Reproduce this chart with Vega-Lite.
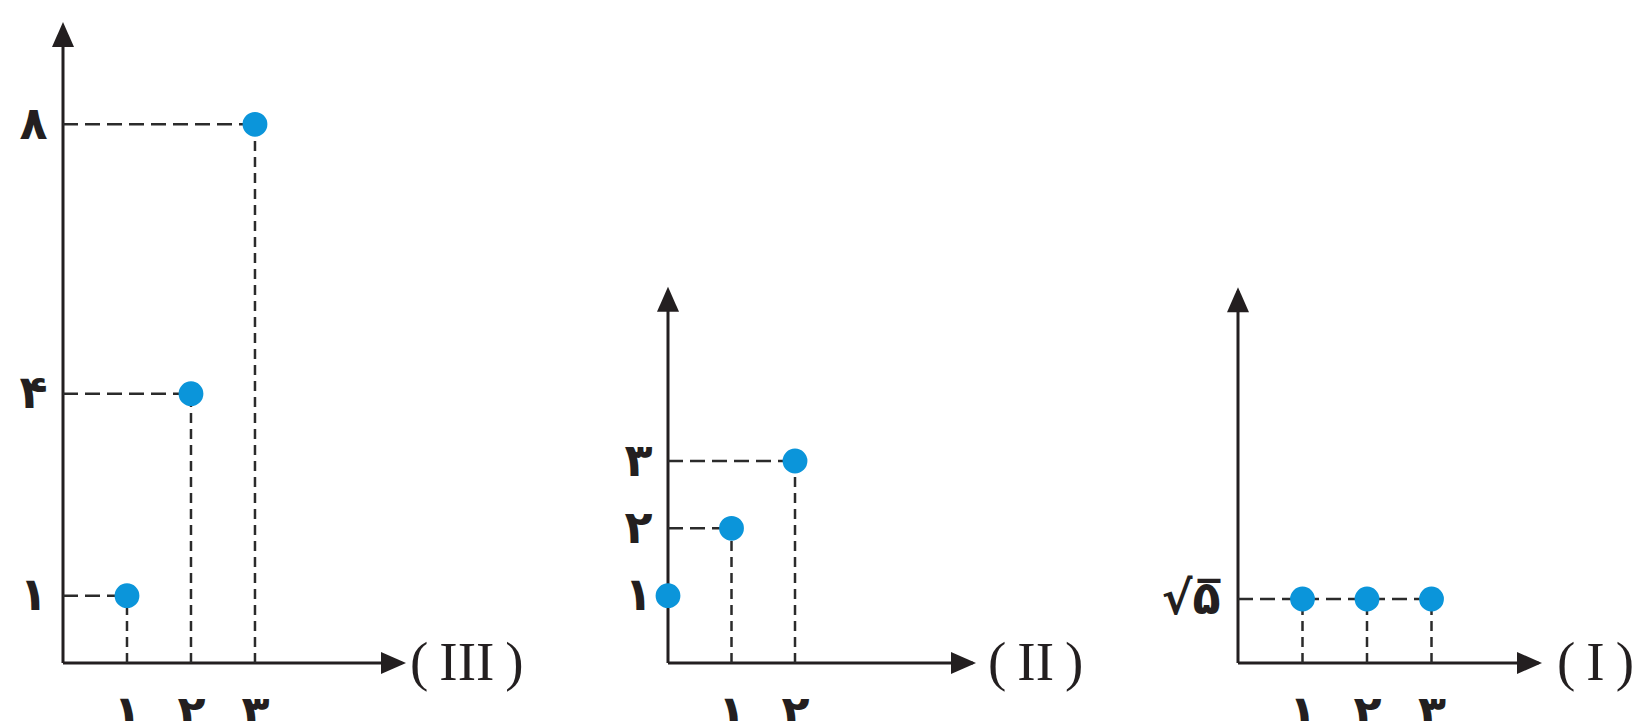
{
  "$schema": "https://vega.github.io/schema/vega-lite/v6.json",
  "padding": {"left": 18, "top": 22, "right": 0, "bottom": 0},
  "background": "white",
  "datasets": {
    "pIII": [{"n": 1, "a": 1}, {"n": 2, "a": 4}, {"n": 3, "a": 8}],
    "gIII": [
      {"kind": "axis", "x0": 0, "x1": 5.3, "y0": 0, "y1": 0},
      {"kind": "axis", "x0": 0, "x1": 0, "y0": 0, "y1": 9.45},
      {"kind": "h", "x0": 0, "x1": 1, "y0": 1, "y1": 1},
      {"kind": "h", "x0": 0, "x1": 2, "y0": 4, "y1": 4},
      {"kind": "h", "x0": 0, "x1": 3, "y0": 8, "y1": 8},
      {"kind": "v", "x0": 1, "x1": 1, "y0": 0, "y1": 1},
      {"kind": "v", "x0": 2, "x1": 2, "y0": 0, "y1": 4},
      {"kind": "v", "x0": 3, "x1": 3, "y0": 0, "y1": 8}
    ],
    "aIII": [{"x": 5.36, "y": 0, "dir": "right", "label": "(\u2009III\u2009)"}, {"x": 0, "y": 9.52, "dir": "up", "label": ""}],
    "pII": [{"n": 0, "a": 1}, {"n": 1, "a": 2}, {"n": 2, "a": 3}],
    "gII": [
      {"kind": "axis", "x0": 0, "x1": 4.8, "y0": 0, "y1": 0},
      {"kind": "axis", "x0": 0, "x1": 0, "y0": 0, "y1": 5.52},
      {"kind": "h", "x0": 0, "x1": 1, "y0": 2, "y1": 2},
      {"kind": "h", "x0": 0, "x1": 2, "y0": 3, "y1": 3},
      {"kind": "v", "x0": 1, "x1": 1, "y0": 0, "y1": 2},
      {"kind": "v", "x0": 2, "x1": 2, "y0": 0, "y1": 3}
    ],
    "aII": [{"x": 4.85, "y": 0, "dir": "right", "label": "(\u2009II\u2009)"}, {"x": 0, "y": 5.587, "dir": "up", "label": ""}],
    "pI": [{"n": 1, "a": 2.2360679775}, {"n": 2, "a": 2.2360679775}, {"n": 3, "a": 2.2360679775}],
    "gI": [
      {"kind": "axis", "x0": 0, "x1": 4.66, "y0": 0, "y1": 0},
      {"kind": "axis", "x0": 0, "x1": 0, "y0": 0, "y1": 13.0},
      {"kind": "h", "x0": 0, "x1": 3, "y0": 2.2360679775, "y1": 2.2360679775},
      {"kind": "v", "x0": 1, "x1": 1, "y0": 0, "y1": 2.2360679775},
      {"kind": "v", "x0": 2, "x1": 2, "y0": 0, "y1": 2.2360679775},
      {"kind": "v", "x0": 3, "x1": 3, "y0": 0, "y1": 2.2360679775}
    ],
    "aI": [{"x": 4.713, "y": 0, "dir": "right", "label": "(\u2009I\u2009)"}, {"x": 0, "y": 13.13, "dir": "up", "label": ""}]
  },
  "spacing": 262,
  "bounds": "flush",
  "config": {
    "view": {"stroke": null},
    "axis": {"domain": false, "ticks": false, "tickSize": 0, "grid": false, "labelFont": "DejaVu Sans", "labelFontWeight": "bold", "labelFontSize": 46, "labelColor": "#231f20", "labelFlush": false, "labelOverlap": false},
    "axisX": {"labelPadding": 28, "labelBaseline": "top"},
    "axisY": {"labelPadding": 16}
  },
  "hconcat": [
    {
      "width": 343, "height": 641,
      "layer": [
        {"data": {"name": "gIII"}, "transform": [{"filter": "datum.kind == 'axis'"}], "mark": {"type": "rule", "color": "#231f20", "strokeWidth": 3},
         "encoding": {"x": {"field": "x0", "type": "quantitative", "title": null}, "x2": {"field": "x1"}, "y": {"field": "y0", "type": "quantitative", "title": null}, "y2": {"field": "y1"}}},
        {"data": {"name": "gIII"}, "transform": [{"filter": "datum.kind == 'h'"}], "mark": {"type": "rule", "color": "#2b2b2b", "strokeWidth": 2.5, "strokeDash": [15, 7]},
         "encoding": {"x": {"field": "x0", "type": "quantitative", "title": null}, "x2": {"field": "x1"}, "y": {"field": "y0", "type": "quantitative", "title": null}, "y2": {"field": "y1"}}},
        {"data": {"name": "gIII"}, "transform": [{"filter": "datum.kind == 'v'"}], "mark": {"type": "rule", "color": "#2b2b2b", "strokeWidth": 2.5, "strokeDash": [10, 6]},
         "encoding": {"x": {"field": "x0", "type": "quantitative", "title": null}, "x2": {"field": "x1"}, "y": {"field": "y0", "type": "quantitative", "title": null}, "y2": {"field": "y1"}}},
        {"data": {"name": "pIII"}, "mark": {"type": "point", "filled": true, "shape": "circle", "size": 616, "color": "#0b95da", "opacity": 1},
         "encoding": {
           "x": {"field": "n", "type": "quantitative", "title": null, "scale": {"domain": [0, 5.36], "nice": false, "zero": false}, "axis": {"values": [1, 2, 3], "labelExpr": "['۰','۱','۲','۳','۴','۵','۶','۷','۸','۹'][datum.value]"}},
           "y": {"field": "a", "type": "quantitative", "title": null, "scale": {"domain": [0, 9.52], "nice": false, "zero": false}, "axis": {"values": [1, 4, 8], "labelExpr": "['۰','۱','۲','۳','۴','۵','۶','۷','۸','۹'][datum.value]"}}
         }},
        {"data": {"name": "aIII"}, "mark": {"type": "point", "filled": true, "size": 625, "color": "#231f20", "opacity": 1},
         "encoding": {"x": {"field": "x", "type": "quantitative", "title": null}, "y": {"field": "y", "type": "quantitative", "title": null},
           "shape": {"field": "dir", "type": "nominal", "legend": null, "scale": {"domain": ["right", "up"], "range": ["M0,0L-2,-0.88L-2,0.88Z", "M0,0L-0.88,2L0.88,2Z"]}}}},
        {"data": {"name": "aIII"}, "transform": [{"filter": "datum.label != ''"}], "mark": {"type": "text", "font": "Liberation Serif", "fontSize": 55, "color": "#231f20", "align": "left", "baseline": "middle", "dx": 4},
         "encoding": {"x": {"field": "x", "type": "quantitative", "title": null}, "y": {"field": "y", "type": "quantitative", "title": null}, "text": {"field": "label"}}}
      ]
    },
    {
      "width": 308, "height": 641,
      "layer": [
        {"data": {"name": "gII"}, "transform": [{"filter": "datum.kind == 'axis'"}], "mark": {"type": "rule", "color": "#231f20", "strokeWidth": 3},
         "encoding": {"x": {"field": "x0", "type": "quantitative", "title": null}, "x2": {"field": "x1"}, "y": {"field": "y0", "type": "quantitative", "title": null}, "y2": {"field": "y1"}}},
        {"data": {"name": "gII"}, "transform": [{"filter": "datum.kind == 'h'"}], "mark": {"type": "rule", "color": "#2b2b2b", "strokeWidth": 2.5, "strokeDash": [15, 7]},
         "encoding": {"x": {"field": "x0", "type": "quantitative", "title": null}, "x2": {"field": "x1"}, "y": {"field": "y0", "type": "quantitative", "title": null}, "y2": {"field": "y1"}}},
        {"data": {"name": "gII"}, "transform": [{"filter": "datum.kind == 'v'"}], "mark": {"type": "rule", "color": "#2b2b2b", "strokeWidth": 2.5, "strokeDash": [10, 6]},
         "encoding": {"x": {"field": "x0", "type": "quantitative", "title": null}, "x2": {"field": "x1"}, "y": {"field": "y0", "type": "quantitative", "title": null}, "y2": {"field": "y1"}}},
        {"data": {"name": "pII"}, "mark": {"type": "point", "filled": true, "shape": "circle", "size": 616, "color": "#0b95da", "opacity": 1},
         "encoding": {
           "x": {"field": "n", "type": "quantitative", "title": null, "scale": {"domain": [0, 4.85], "nice": false, "zero": false}, "axis": {"values": [1, 2], "labelExpr": "['۰','۱','۲','۳','۴','۵','۶','۷','۸','۹'][datum.value]"}},
           "y": {"field": "a", "type": "quantitative", "title": null, "scale": {"domain": [0, 9.52], "nice": false, "zero": false}, "axis": {"values": [1, 2, 3], "labelExpr": "['۰','۱','۲','۳','۴','۵','۶','۷','۸','۹'][datum.value]"}}
         }},
        {"data": {"name": "aII"}, "mark": {"type": "point", "filled": true, "size": 625, "color": "#231f20", "opacity": 1},
         "encoding": {"x": {"field": "x", "type": "quantitative", "title": null}, "y": {"field": "y", "type": "quantitative", "title": null},
           "shape": {"field": "dir", "type": "nominal", "legend": null, "scale": {"domain": ["right", "up"], "range": ["M0,0L-2,-0.88L-2,0.88Z", "M0,0L-0.88,2L0.88,2Z"]}}}},
        {"data": {"name": "aII"}, "transform": [{"filter": "datum.label != ''"}], "mark": {"type": "text", "font": "Liberation Serif", "fontSize": 55, "color": "#231f20", "align": "left", "baseline": "middle", "dx": 12},
         "encoding": {"x": {"field": "x", "type": "quantitative", "title": null}, "y": {"field": "y", "type": "quantitative", "title": null}, "text": {"field": "label"}}}
      ]
    },
    {
      "width": 304, "height": 641,
      "layer": [
        {"data": {"name": "gI"}, "transform": [{"filter": "datum.kind == 'axis'"}], "mark": {"type": "rule", "color": "#231f20", "strokeWidth": 3},
         "encoding": {"x": {"field": "x0", "type": "quantitative", "title": null}, "x2": {"field": "x1"}, "y": {"field": "y0", "type": "quantitative", "title": null}, "y2": {"field": "y1"}}},
        {"data": {"name": "gI"}, "transform": [{"filter": "datum.kind == 'h'"}], "mark": {"type": "rule", "color": "#2b2b2b", "strokeWidth": 2.5, "strokeDash": [15, 7]},
         "encoding": {"x": {"field": "x0", "type": "quantitative", "title": null}, "x2": {"field": "x1"}, "y": {"field": "y0", "type": "quantitative", "title": null}, "y2": {"field": "y1"}}},
        {"data": {"name": "gI"}, "transform": [{"filter": "datum.kind == 'v'"}], "mark": {"type": "rule", "color": "#2b2b2b", "strokeWidth": 2.5, "strokeDash": [10, 6]},
         "encoding": {"x": {"field": "x0", "type": "quantitative", "title": null}, "x2": {"field": "x1"}, "y": {"field": "y0", "type": "quantitative", "title": null}, "y2": {"field": "y1"}}},
        {"data": {"name": "pI"}, "mark": {"type": "point", "filled": true, "shape": "circle", "size": 616, "color": "#0b95da", "opacity": 1},
         "encoding": {
           "x": {"field": "n", "type": "quantitative", "title": null, "scale": {"domain": [0, 4.713], "nice": false, "zero": false}, "axis": {"values": [1, 2, 3], "labelExpr": "['۰','۱','۲','۳','۴','۵','۶','۷','۸','۹'][datum.value]"}},
           "y": {"field": "a", "type": "quantitative", "title": null, "scale": {"domain": [0, 22.4], "nice": false, "zero": false}, "axis": {"values": [2.2360679775], "labelPadding": 18, "labelExpr": "'√۵̅'"}}
         }},
        {"data": {"name": "aI"}, "mark": {"type": "point", "filled": true, "size": 625, "color": "#231f20", "opacity": 1},
         "encoding": {"x": {"field": "x", "type": "quantitative", "title": null}, "y": {"field": "y", "type": "quantitative", "title": null},
           "shape": {"field": "dir", "type": "nominal", "legend": null, "scale": {"domain": ["right", "up"], "range": ["M0,0L-2,-0.88L-2,0.88Z", "M0,0L-0.88,2L0.88,2Z"]}}}},
        {"data": {"name": "aI"}, "transform": [{"filter": "datum.label != ''"}], "mark": {"type": "text", "font": "Liberation Serif", "fontSize": 55, "color": "#231f20", "align": "left", "baseline": "middle", "dx": 15},
         "encoding": {"x": {"field": "x", "type": "quantitative", "title": null}, "y": {"field": "y", "type": "quantitative", "title": null}, "text": {"field": "label"}}}
      ]
    }
  ]
}
